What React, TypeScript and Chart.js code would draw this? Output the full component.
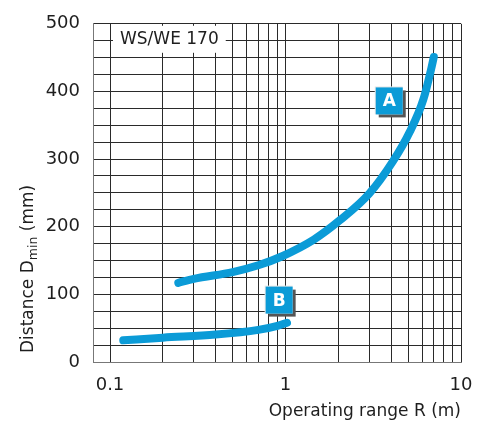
import React, { useEffect, useRef } from "react";
import { Chart, registerables } from "chart.js";

Chart.register(...registerables);

// Curve A (operating range R in m, distance Dmin in mm)
const curveA_R = [0.245, 0.3, 0.5, 0.7, 0.95, 1.45, 2.05, 3.0, 4.1, 5.1, 6.1, 6.8, 7.0];
const curveA_D = [117, 123, 133, 143, 156, 181, 210, 249, 297, 340, 388, 436, 451];

// Curve B
const curveB_R = [0.119, 0.2, 0.4, 0.7, 0.9, 1.02];
const curveB_D = [32, 36, 40.5, 47.5, 53.5, 58];

// Axis ticks
const xGridValues = [0.1, 0.2, 0.3, 0.4, 0.5, 0.6, 0.7, 0.8, 0.9, 1, 2, 3, 4, 5, 6, 7, 8, 9, 10];
const xLabelValues = [0.1, 1, 10];
const xTickLabels = ["0.1", "1", "10"];
const yMin = 0;
const yMax = 500;
const yGridStep = 25;
const yLabelStep = 100;

// Curve labels (anchored in data coordinates)
const curveLabels = [
  { text: "A", r: 3.9, d: 386 },
  { text: "B", r: 0.92, d: 91.5 },
];
const panelTitle = "WS/WE 170";
const xTitle = "Operating range R (m)";
const yTitleMain = "Distance D";
const yTitleSub = "min";
const yTitleEnd = " (mm)";

const BLUE = "#0b9bd7";
const FONT = "'DejaVu Sans', sans-serif";

export default function App() {
  const ref = useRef<HTMLCanvasElement | null>(null);

  useEffect(() => {
    if (!ref.current) return;

    const overlay = {
      id: "overlay",
      beforeDatasetsDraw(chart: any) {
        const { ctx, chartArea } = chart;
        ctx.save();
        ctx.font = `17px ${FONT}`;
        const w = ctx.measureText(panelTitle).width;
        const bx = chartArea.left + 20;
        const by = chartArea.top + 2;
        ctx.fillStyle = "#ffffff";
        ctx.fillRect(bx, by, w + 14, 27);
        ctx.fillStyle = "#1e1e1e";
        ctx.textBaseline = "middle";
        ctx.textAlign = "left";
        ctx.fillText(panelTitle, bx + 7, by + 14);
        ctx.restore();
      },
      afterDatasetsDraw(chart: any) {
        const { ctx, scales } = chart;
        ctx.save();
        for (const lb of curveLabels) {
          const cx = scales.x.getPixelForValue(lb.r);
          const cy = scales.y.getPixelForValue(lb.d);
          const s = 27;
          ctx.fillStyle = "#555";
          ctx.fillRect(cx - s / 2 + 3, cy - s / 2 + 3, s, s);
          ctx.fillStyle = "#e8e8e8";
          ctx.fillRect(cx - s / 2 - 1, cy - s / 2 - 1, s + 1, s + 1);
          ctx.fillStyle = BLUE;
          ctx.fillRect(cx - s / 2, cy - s / 2, s, s);
          ctx.fillStyle = "#ffffff";
          ctx.font = `bold 17px ${FONT}`;
          ctx.textAlign = "center";
          ctx.textBaseline = "middle";
          ctx.fillText(lb.text, cx, cy + 1);
        }
        ctx.restore();
      },
      afterDraw(chart: any) {
        const { ctx, chartArea } = chart;
        ctx.save();
        ctx.fillStyle = "#1e1e1e";
        // x title
        ctx.font = `17px ${FONT}`;
        ctx.textAlign = "right";
        ctx.textBaseline = "alphabetic";
        ctx.fillText(xTitle, chartArea.right, chartArea.bottom + 54);
        // y title (rotated, with subscript)
        ctx.translate(chartArea.left - 60, chartArea.bottom - 9);
        ctx.rotate(-Math.PI / 2);
        ctx.textAlign = "left";
        ctx.font = `17px ${FONT}`;
        let x = 0;
        ctx.fillText(yTitleMain, x, 0);
        x += ctx.measureText(yTitleMain).width;
        ctx.font = `12.5px ${FONT}`;
        ctx.fillText(yTitleSub, x, 4);
        x += ctx.measureText(yTitleSub).width;
        ctx.font = `17px ${FONT}`;
        ctx.fillText(yTitleEnd, x, 0);
        ctx.restore();
      },
    };

    const lineStyle = {
      borderColor: BLUE,
      borderWidth: 8,
      borderCapStyle: "round",
      borderJoinStyle: "round",
      pointRadius: 0,
      cubicInterpolationMode: "monotone",
      fill: false,
    };

    const chart = new Chart(ref.current, {
      type: "line",
      data: {
        datasets: [
          {
            label: "A",
            data: curveA_R.map((r, i) => ({ x: r, y: curveA_D[i] })),
            ...lineStyle,
          },
          {
            label: "B",
            data: curveB_R.map((r, i) => ({ x: r, y: curveB_D[i] })),
            ...lineStyle,
          },
        ],
      },
      options: {
        animation: false,
        responsive: false,
        layout: { padding: { top: 16, right: 28, left: 0, bottom: 0 } },
        plugins: { legend: { display: false }, tooltip: { enabled: false } },
        scales: {
          x: {
            type: "logarithmic",
            min: 0.08,
            max: 10,
            afterBuildTicks: (scale: any) => {
              scale.ticks = xGridValues.map((v) => ({ value: v }));
            },
            afterFit: (scale: any) => {
              scale.height = 61;
            },
            grid: { color: "#2a2a2a", lineWidth: 1, drawTicks: false },
            border: { color: "#777", width: 1 },
            ticks: {
              autoSkip: false,
              maxRotation: 0,
              padding: 13,
              color: "#1e1e1e",
              font: { family: FONT, size: 18 },
              callback: (value: any) => {
                const idx = xLabelValues.findIndex((v) => Math.abs(v - Number(value)) < 1e-9);
                return idx >= 0 ? xTickLabels[idx] : "";
              },
            },
          },
          y: {
            type: "linear",
            min: yMin,
            max: yMax,
            afterFit: (scale: any) => {
              scale.width = 93;
            },
            grid: { color: "#2a2a2a", lineWidth: 1, drawTicks: false },
            border: { color: "#777", width: 1 },
            ticks: {
              stepSize: yGridStep,
              autoSkip: false,
              padding: 13,
              color: "#1e1e1e",
              font: { family: FONT, size: 18 },
              callback: (value: any) => (Number(value) % yLabelStep === 0 ? String(value) : ""),
            },
          },
        },
      },
      plugins: [overlay],
    } as any);

    return () => chart.destroy();
  }, []);

  return (
    <div style={{ position: "fixed", left: 0, top: 0, width: 489, height: 423, background: "#fff" }}>
      <canvas ref={ref} width={489} height={423} style={{ display: "block" }} />
    </div>
  );
}
